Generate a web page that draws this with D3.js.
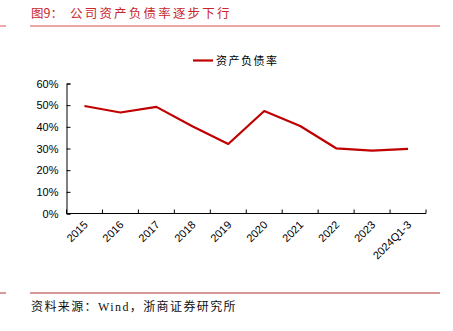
<!DOCTYPE html>
<html lang="zh">
<head>
<meta charset="UTF-8">
<title>公司资产负债率逐步下行</title>
<script src="https://d3js.org/d3.v7.min.js"></script>
<style>
  body { margin: 0; background: #fff; }
  svg { display: block; }
</style>
</head>
<body>
<div id="chart"></div>
<script>
  // 资产负债率 (%)
  var years = ['2015', '2016', '2017', '2018', '2019', '2020', '2021', '2022', '2023', '2024Q1-3'];
  var ratio = [49.6, 46.6, 49.2, 40.3, 32.1, 47.3, 40.4, 30.1, 29.0, 29.8];
  var yTicks = [0, 10, 20, 30, 40, 50, 60];

  var W = 453, H = 331;
  var red = '#c00000';
  var cjk = '"Noto Sans CJK SC", sans-serif';

  var svg = d3.select('#chart').append('svg')
      .attr('width', W)
      .attr('height', H);

  // title and header rule
  svg.append('text')
      .attr('x', 31).attr('y', 18)
      .attr('fill', '#c8262b')
      .style('font-family', cjk)
      .style('font-size', '12.5px')
      .text('图9：');
  svg.append('text')
      .attr('x', 70).attr('y', 18)
      .attr('fill', '#c8262b')
      .style('font-family', cjk)
      .style('font-size', '12.5px')
      .style('letter-spacing', '2.2px')
      .text('公司资产负债率逐步下行');
  svg.append('line').attr('x1', 0).attr('x2', 6).attr('y1', 26).attr('y2', 26)
      .attr('stroke', '#d9534f').attr('stroke-width', 1);
  svg.append('line').attr('x1', 30).attr('x2', 440).attr('y1', 26).attr('y2', 26)
      .attr('stroke', '#d9534f').attr('stroke-width', 1);

  // footer rule and source
  svg.append('line').attr('x1', 0).attr('x2', 6).attr('y1', 293).attr('y2', 293)
      .attr('stroke', '#b03030').attr('stroke-width', 1);
  svg.append('line').attr('x1', 30).attr('x2', 440).attr('y1', 293).attr('y2', 293)
      .attr('stroke', '#b03030').attr('stroke-width', 1);
  svg.append('text')
      .attr('x', 31).attr('y', 311)
      .attr('fill', '#111')
      .style('font-family', '"Liberation Serif", "Noto Sans CJK SC", serif')
      .style('font-size', '12px')
      .style('letter-spacing', '1.4px')
      .text('资料来源：Wind，浙商证券研究所');

  var margin = {left: 66.5, top: 83.5, right: 27, bottom: 117.5};
  var width = W - margin.left - margin.right,
      height = H - margin.top - margin.bottom;

  var g = svg.append('g')
      .attr('transform', 'translate(' + margin.left + ',' + margin.top + ')');

  var x = d3.scaleBand().domain(years).range([0, width]);
  var y = d3.scaleLinear().domain([0, 60]).range([height, 0]);

  // y axis, ticks pointing inward
  var yAxis = g.append('g')
      .call(d3.axisLeft(y).tickValues(yTicks).tickSize(-4).tickPadding(8)
          .tickFormat(function(d) { return d + '%'; }));
  yAxis.selectAll('text')
      .style('font-family', '"Liberation Sans", Arial, sans-serif')
      .style('font-size', '11px')
      .attr('fill', '#000');

  // x axis, ticks at band edges pointing inward
  var xAxis = g.append('g')
      .attr('transform', 'translate(0,' + height + ')');
  xAxis.append('line')
      .attr('x1', 0).attr('x2', width)
      .attr('stroke', '#000');
  xAxis.selectAll('.edge')
      .data(years.concat(['end']))
      .enter().append('line')
      .attr('class', 'edge')
      .attr('x1', function(d, i) { return i * x.bandwidth(); })
      .attr('x2', function(d, i) { return i * x.bandwidth(); })
      .attr('y1', 0).attr('y2', -4)
      .attr('stroke', '#000');
  xAxis.selectAll('.lbl')
      .data(years)
      .enter().append('text')
      .attr('class', 'lbl')
      .attr('text-anchor', 'end')
      .attr('transform', function(d) {
        return 'translate(' + (x(d) + x.bandwidth() / 2 + 4) + ',12) rotate(-45)';
      })
      .style('font-family', '"Liberation Sans", Arial, sans-serif')
      .style('font-size', '11px')
      .attr('fill', '#000')
      .text(function(d) { return d; });

  g.selectAll('.domain').attr('stroke', '#000');
  g.selectAll('.tick line').attr('stroke', '#000');

  // series line
  var line = d3.line()
      .x(function(d, i) { return x(years[i]) + x.bandwidth() / 2; })
      .y(function(d) { return y(d); });
  g.append('path')
      .datum(ratio)
      .attr('fill', 'none')
      .attr('stroke', red)
      .attr('stroke-width', 2.2)
      .attr('stroke-linejoin', 'round')
      .attr('d', line);

  // legend
  svg.append('line')
      .attr('x1', 193).attr('x2', 213).attr('y1', 60.5).attr('y2', 60.5)
      .attr('stroke', red).attr('stroke-width', 2.2);
  svg.append('text')
      .attr('x', 216).attr('y', 65)
      .attr('fill', '#000')
      .style('font-family', cjk)
      .style('font-size', '11px')
      .style('letter-spacing', '1.5px')
      .text('资产负债率');
</script>
</body>
</html>
